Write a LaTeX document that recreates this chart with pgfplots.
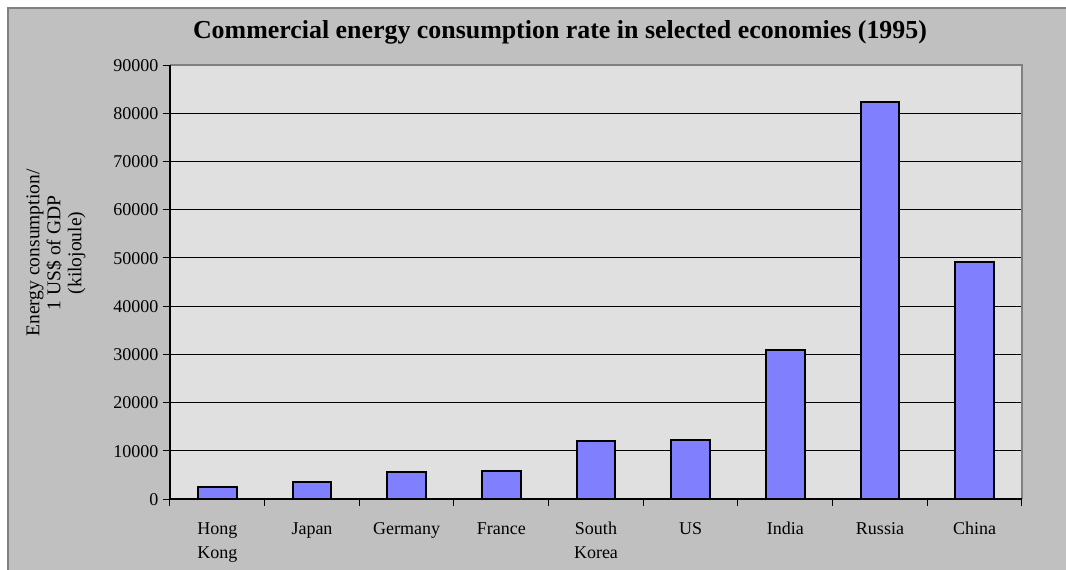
\documentclass[border=0pt]{standalone}
\usepackage{pgfplots}
\pgfplotsset{compat=1.18}
\usetikzlibrary{backgrounds,calc}
\usepackage{fontspec}
\setmainfont{Liberation Serif}

\definecolor{chartbg}{RGB}{192,192,192}
\definecolor{plotbg}{RGB}{224,224,224}
\definecolor{framegray}{RGB}{128,128,128}
\definecolor{barblue}{RGB}{128,128,255}

\pgfplotstableread{
x    value
0.5  2550
1.5  3520
2.5  5530
3.5  5750
4.5  11950
5.5  12170
6.5  30950
7.5  82250
8.5  49080
}\energy

\begin{document}
\begin{tikzpicture}
  \begin{axis}[
    name=ax,
    at={(0pt,0pt)}, anchor=south west,
    scale only axis,
    width=852pt, height=434pt,
    xmin=0, xmax=9,
    ymin=0, ymax=90000,
    axis background/.style={fill=plotbg},
    axis line style={draw=none},
    xtick={0.5,1.5,...,8.5},
    xticklabels={{Hong\\Kong},Japan,Germany,France,{South\\Korea},US,India,Russia,China},
    minor xtick={0,1,...,9},
    major x tick style={draw=none},
    minor x tick style={black, line width=1pt},
    minor tick length=7pt,
    ytick={0,10000,...,90000},
    ymajorgrids,
    major grid style={black, line width=1pt},
    major y tick style={black, line width=1pt},
    major tick length=7pt,
    tick align=outside,
    tick pos=left,
    scaled y ticks=false,
    /pgf/number format/1000 sep={},
    /pgf/number format/assume math mode=true,
    tick label style={font=\fontsize{18}{24}\selectfont},
    xticklabel style={align=center, anchor=north, yshift=-8pt},
    typeset ticklabels with strut,
    yticklabel style={xshift=-1pt, yshift=-1.5pt},
    clip=false,
  ]
    \addplot[ybar, bar width=38.7pt, fill=barblue, draw=black, line width=1.8pt]
      table[x=x, y=value] {\energy};
    % plot frame: gray top and right, black left and bottom
    \draw[framegray, line width=2pt] (rel axis cs:0,1) -- (rel axis cs:1,1) -- (rel axis cs:1,0);
    \draw[black, line width=1.2pt] (rel axis cs:0,1) -- (rel axis cs:0,0) -- (rel axis cs:1,0);
  \end{axis}

  % page frame in pixel units, measured from the page's lower-left corner
  \begin{scope}[shift={($(ax.south west)+(-170pt,-71pt)$)}, x=1pt, y=1pt]
    \begin{scope}[on background layer]
      \fill[chartbg] (8,-20) rectangle (1090,562);
      \draw[framegray, line width=1.5pt] (8,-20) -- (8,562) -- (1090,562);
    \end{scope}
    \node[font=\bfseries\fontsize{25.9}{30}\selectfont] at (560,538)
      {Commercial energy consumption rate in selected economies (1995)};
    \node[rotate=90, align=center, font=\fontsize{19.5}{21}\selectfont] at (56,317)
      {Energy consumption/\\1 US\$ of GDP\\(kilojoule)};
    \pgfresetboundingbox
    \path[use as bounding box] (0,0) rectangle (1066,570);
  \end{scope}
\end{tikzpicture}
\end{document}
